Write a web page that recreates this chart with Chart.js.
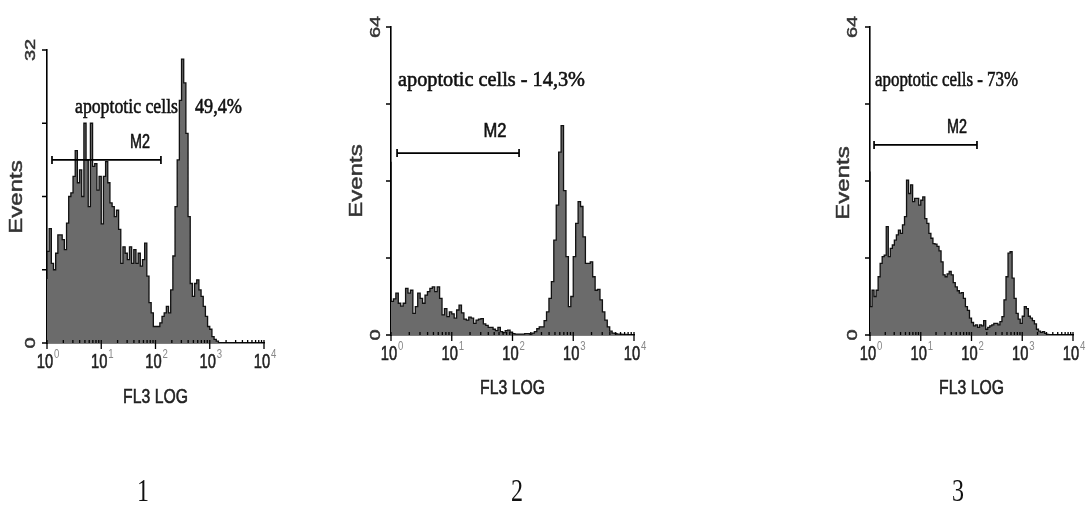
<!DOCTYPE html>
<html>
<head>
<meta charset="utf-8">
<script src="https://cdn.jsdelivr.net/npm/chart.js@4.4.0/dist/chart.umd.min.js"></script>
<style>
  html, body { margin: 0; padding: 0; background: #fff; }
  #wrap { position: relative; width: 1087px; height: 513px; overflow: hidden; }
  canvas { position: absolute; left: 0; top: 0; }
</style>
</head>
<body>
<div id="wrap">
  <canvas id="c1" width="1087" height="513"></canvas>
  <canvas id="c2" width="1087" height="513"></canvas>
  <canvas id="c3" width="1087" height="513"></canvas>
</div>
<script>
// FL3 LOG channel, 25 channels per decade (10^0 .. 10^4)
var channels = [
  0, 1, 2, 3, 4, 5, 6, 7, 8, 9, 10, 11, 12, 13, 14, 15, 16, 17, 18, 19,
  20, 21, 22, 23, 24, 25, 26, 27, 28, 29, 30, 31, 32, 33, 34, 35, 36, 37, 38, 39,
  40, 41, 42, 43, 44, 45, 46, 47, 48, 49, 50, 51, 52, 53, 54, 55, 56, 57, 58, 59,
  60, 61, 62, 63, 64, 65, 66, 67, 68, 69, 70, 71, 72, 73, 74, 75, 76, 77, 78, 79,
  80, 81, 82, 83, 84, 85, 86, 87, 88, 89, 90, 91, 92, 93, 94, 95, 96, 97, 98, 99
];

// Events per channel
var events1 = [
  7, 10, 12.5, 8.7, 8, 9.8, 11.8, 11.8, 11.3, 10.2,
  13.1, 16, 16.4, 18.2, 21, 17.5, 18.9, 16, 24, 20,
  14.9, 24, 19.3, 19.6, 16.7, 18.2, 13, 18.2, 19.8, 17.5,
  15.3, 14.9, 13.8, 14.5, 12.4, 8.7, 10.5, 9.8, 9.1, 10.5,
  8.7, 10.2, 8.7, 9.8, 8.4, 9.1, 10.9, 7.3, 4.4, 3.3,
  1.8, 1.8, 1.8, 2.2, 2.9, 3.3, 4, 3.3, 5.8, 9.5,
  14.9, 20, 26.5, 31, 28.4, 22.9, 13.8, 6.5, 5.1, 6.5,
  6.9, 5.8, 5.1, 4, 2.9, 1.8, 1.5, 0.7, 0.4, 0.2,
  0, 0, 0, 0, 0, 0, 0, 0, 0, 0,
  0, 0, 0, 0, 0, 0, 0, 0, 0, 0
];
var events2 = [
  36, 7, 7.5, 8.7, 6.6, 6, 6.6, 9.7, 8.7, 9.3,
  4.5, 5.9, 8.7, 7.6, 6.6, 8.3, 9, 9.7, 10, 9,
  10, 7.6, 4.2, 5.5, 3.8, 4.8, 4.4, 3.5, 5.2, 6.2,
  4.6, 3.3, 3.1, 3.7, 3.5, 2.4, 3.1, 3.3, 3.4, 2.3,
  2, 1.6, 1.6, 1.2, 0.9, 1.6, 0.7, 0.5, 0.9, 1,
  0.6, 0.3, 0.2, 0.2, 0.2, 0.2, 0.3, 0.3, 0.2, 0.4,
  0.7, 1.3, 1.7, 1.7, 3, 4.8, 7.6, 11.1, 19.7, 27,
  38, 43.5, 30, 16.3, 5.9, 8, 16.3, 23.2, 27.7, 26.7,
  20.4, 14.9, 14.9, 15.2, 12.1, 9.3, 9.5, 7.3, 4.8, 3.1,
  1.7, 0.8, 0.4, 0.3, 0.2, 0.2, 0.1, 0.1, 0, 0
];
var events3 = [
  34, 5.9, 9.3, 8, 9.3, 12.1, 14.9, 16.3, 16.6, 22.5,
  16.3, 18, 18.7, 19.7, 20.8, 21.8, 21.1, 22.9, 24.6, 32.2,
  29.4, 31.2, 27.7, 28.4, 28.4, 27, 28, 28.7, 24.2, 23.2,
  21.1, 20.1, 19, 18.9, 18.4, 17.5, 15.2, 12.5, 12.1, 12.7,
  13.2, 12.5, 10.9, 10, 9.2, 8.7, 8.8, 7.6, 5.9, 5.1,
  3.5, 2.6, 1.9, 2.1, 1.6, 2.1, 1.9, 3, 1.2, 1.6,
  1.9, 2.1, 2.4, 2.4, 2.1, 2.8, 3.8, 7.3, 12.1, 17,
  17.3, 11.8, 7.6, 4.5, 3.3, 2.4, 3.9, 5.9, 5.5, 3.9,
  3.5, 3, 2.3, 1.2, 0.8, 0.55, 0.7, 0.35, 0.1, 0,
  0, 0, 0, 0, 0, 0, 0, 0, 0, 0
];

var decadeChannels = [0, 25, 50, 75, 100];
var decadeExponents = ['0', '1', '2', '3', '4'];
var yMaxes = [32, 64, 64];
var panelNumbers = ['1', '2', '3'];
var apoptoticLabels = [['apoptotic cells', '49,4%'], ['apoptotic cells - 14,3%'], ['apoptotic cells - 73%']];
var m2Gates = [[2.3, 52.5], [2.5, 52.7], [2, 52.7]];   // channel range
var m2Levels = [20, 37.8, 39.5];                      // events

// page layout of each panel (pixels)
var layouts = [
  { area: { l: 47, r: 264, t: 50, b: 343 }, yLabX: 31, evt: [17, 197],
    ann: [[75, 107, 103], [195, 107, 47]], m2Lab: [140, 142, 20], titleY: 397, numX: 143 },
  { area: { l: 391, r: 634, t: 27, b: 335 }, yLabX: 376, evt: [357, 181],
    ann: [[398, 80, 187]], m2Lab: [495, 131, 23], titleY: 388, numX: 517 },
  { area: { l: 870, r: 1073, t: 27, b: 335 }, yLabX: 853, evt: [844, 183],
    ann: [[875, 80, 143]], m2Lab: [957, 127, 20], titleY: 388, numX: 958 }
];

var SANS = '"Liberation Sans", Arial, sans-serif';
var SERIF = '"Liberation Serif", "Times New Roman", serif';

// draw text squeezed horizontally (the figure is condensed), slightly heavy like the scan
function squeezed(ctx, s, x, y, font, color, sx, align, rotate, heavy) {
  ctx.save();
  ctx.translate(x, y);
  if (rotate) {
    ctx.rotate(-Math.PI / 2);
    ctx.scale(1, sx);
  } else {
    ctx.scale(sx, 1);
  }
  ctx.font = font;
  ctx.fillStyle = color;
  ctx.textAlign = align || 'center';
  ctx.textBaseline = 'middle';
  ctx.fillText(s, 0, 0);
  if (heavy !== 0) {
    ctx.strokeStyle = color;
    ctx.lineWidth = heavy || 0.6;
    ctx.strokeText(s, 0, 0);
  }
  ctx.restore();
}

function fitted(ctx, s, x, y, font, color, width, align) {
  ctx.save();
  ctx.font = font;
  var sx = width / ctx.measureText(s).width;
  ctx.restore();
  squeezed(ctx, s, x, y, font, color, sx, align || 'left');
}

function fcsPlugin(i) {
  var lay = layouts[i];
  return {
    id: 'fcs' + i,
    beforeDatasetsDraw: function(chart) {
      var ctx = chart.ctx;
      apoptoticLabels[i].forEach(function(s, k) {
        var a = lay.ann[k];
        fitted(ctx, s, a[0], a[1], '22px ' + SERIF, '#111', a[2], 'left');
      });
    },
    afterDraw: function(chart) {
      var ctx = chart.ctx;
      var xs = chart.scales.x, ys = chart.scales.y;
      var y0 = ys.getPixelForValue(0);
      var x0 = xs.getPixelForValue(0);
      ctx.save();
      ctx.strokeStyle = '#000';
      ctx.lineWidth = 1.3;
      ctx.beginPath();
      // x ticks: decades below, minor log ticks above
      decadeChannels.forEach(function(c) {
        var px = xs.getPixelForValue(c);
        ctx.moveTo(px, y0 - 3);
        ctx.lineTo(px, y0 + 6);
      });
      for (var d = 0; d < 4; d++) {
        for (var k = 2; k < 10; k++) {
          var px = xs.getPixelForValue(25 * (d + Math.log10(k)));
          ctx.moveTo(px, y0 - 3);
          ctx.lineTo(px, y0);
        }
      }
      // y ticks
      var yMax = yMaxes[i];
      for (var q = 0; q <= 4; q++) {
        var py = ys.getPixelForValue(yMax * q / 4);
        ctx.moveTo(x0 - 5, py);
        ctx.lineTo(x0, py);
      }
      ctx.stroke();

      // M2 gate
      var g = m2Gates[i];
      var gy = ys.getPixelForValue(m2Levels[i]);
      var ga = xs.getPixelForValue(g[0]), gb = xs.getPixelForValue(g[1]);
      ctx.lineWidth = 1.7;
      ctx.beginPath();
      ctx.moveTo(ga, gy); ctx.lineTo(gb, gy);
      ctx.moveTo(ga, gy - 4); ctx.lineTo(ga, gy + 4);
      ctx.moveTo(gb, gy - 4); ctx.lineTo(gb, gy + 4);
      ctx.stroke();
      ctx.restore();
      var m = lay.m2Lab;
      fitted(ctx, 'M2', m[0], m[1], '20px ' + SANS, '#111', m[2], 'center');

      // x tick labels 10^n
      var ly = y0 + 19;
      decadeChannels.forEach(function(c, k) {
        var px = xs.getPixelForValue(c);
        squeezed(ctx, '10', px - 2, ly, '21px ' + SANS, '#222', 0.7, 'center');
        squeezed(ctx, decadeExponents[k], px + 7, ly - 7, '12px ' + SANS, '#888', 0.8, 'left', false, 0);
      });
      squeezed(ctx, 'FL3 LOG', (xs.left + xs.right) / 2, lay.titleY, '21px ' + SANS, '#222', 0.75, 'center');

      // y labels (rotated)
      squeezed(ctx, '0', lay.yLabX, y0, '20px ' + SANS, '#333', 0.75, 'center', true);
      squeezed(ctx, String(yMax), lay.yLabX, ys.getPixelForValue(yMax), '20px ' + SANS, '#333', 0.75, 'center', true);
      squeezed(ctx, 'Events', lay.evt[0], lay.evt[1], '24px ' + SANS, '#333', 0.75, 'center', true);

      // panel number
      squeezed(ctx, panelNumbers[i], lay.numX, 493, '32px ' + SERIF, '#111', 0.75, 'center', false, 0);
    }
  };
}

[events1, events2, events3].forEach(function(ev, i) {
  var a = layouts[i].area;
  new Chart(document.getElementById('c' + (i + 1)), {
    type: 'line',
    data: {
      datasets: [{
        data: channels.map(function(c, k) { return { x: c, y: ev[k] }; }),
        stepped: 'after',
        fill: 'origin',
        backgroundColor: '#6b6b6b',
        borderColor: '#111',
        borderWidth: 1.3,
        pointRadius: 0
      }]
    },
    options: {
      responsive: false,
      animation: false,
      events: [],
      layout: { padding: { left: a.l, right: 1087 - a.r, top: a.t, bottom: 513 - a.b } },
      scales: {
        x: {
          type: 'linear', min: 0, max: 100,
          grid: { display: false },
          ticks: { display: false },
          border: { display: true, color: '#000', width: 1.6 },
          afterFit: function(s) { s.height = 0; }
        },
        y: {
          min: 0, max: yMaxes[i],
          grid: { display: false },
          ticks: { display: false },
          border: { display: true, color: '#000', width: 1.6 },
          afterFit: function(s) { s.width = 0; }
        }
      },
      plugins: {
        legend: { display: false },
        tooltip: { enabled: false }
      }
    },
    plugins: [fcsPlugin(i)]
  });
});
</script>
</body>
</html>
